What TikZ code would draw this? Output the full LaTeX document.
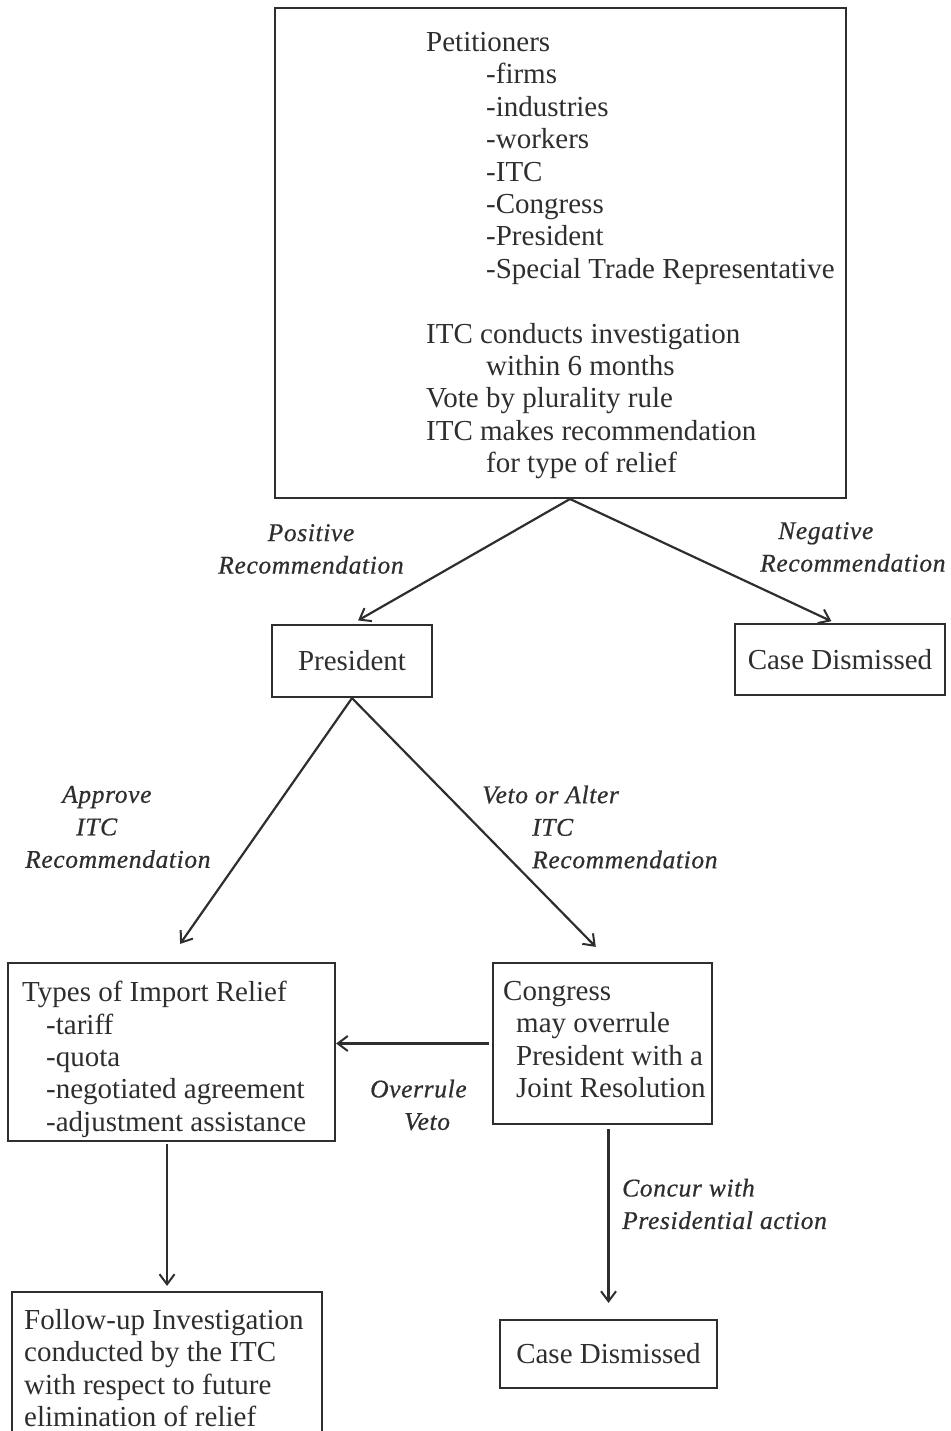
\documentclass[tikz,border=0pt]{standalone}
\usepackage{fontspec}
\setmainfont{Liberation Serif}
\newfontfamily\labfont[LetterSpace=2.5,FakeBold=0.6]{Liberation Serif}
\usetikzlibrary{arrows.meta,calc}
\definecolor{ink}{gray}{0.18}
\tikzset{
  box/.style={draw=ink, line width=2.2pt, rectangle, inner sep=0pt},
  txt/.style={text=ink, inner sep=0pt, font=\fontsize{29}{32.4}\selectfont},
  mtxt/.style={txt, align=left, anchor=north west},
  lab/.style={text=ink, inner sep=0pt, font=\labfont\itshape\fontsize{25.5}{32.5}\selectfont},
  arr/.style={draw=ink, line width=2.2pt, -{Straight Barb[length=10pt,width=15pt,line width=2pt]}}
}
\begin{document}
\begin{tikzpicture}[x=1pt,y=-1pt]
\useasboundingbox (0,0) rectangle (950,1431);
\clip (0,0) rectangle (950,1431);
% boxes
\node[box, minimum width=571pt, minimum height=490pt] (top) at (560.5,253) {};
\node[box, txt, minimum width=160pt, minimum height=72pt] (pres) at (352,661) {President};
\node[box, txt, minimum width=210pt, minimum height=71pt] (cd1) at (840,659.5) {Case Dismissed};
\node[box, minimum width=327pt, minimum height=178pt] (types) at (171.5,1052) {};
\node[box, minimum width=219pt, minimum height=161pt] (cong) at (602.5,1043.5) {};
\node[box, minimum width=310pt, minimum height=160pt] (follow) at (167,1372) {};
\node[box, txt, minimum width=217pt, minimum height=68pt] (cd2) at (608.5,1354) {Case Dismissed};
% box texts
\node[mtxt] (toptext) at (426,32) {Petitioners\\
\hspace*{60pt}-firms\\
\hspace*{60pt}-industries\\
\hspace*{60pt}-workers\\
\hspace*{60pt}-ITC\\
\hspace*{60pt}-Congress\\
\hspace*{60pt}-President\\
\hspace*{60pt}-Special Trade Representative\\[32.4pt]
ITC conducts investigation\\
\hspace*{60pt}within 6 months\\
Vote by plurality rule\\
ITC makes recommendation\\
\hspace*{60pt}for type of relief};
\node[mtxt] (typestext) at (22,981) {Types of Import Relief\\
\hspace*{24pt}-tariff\\
\hspace*{24pt}-quota\\
\hspace*{24pt}-negotiated agreement\\
\hspace*{24pt}-adjustment assistance};
\node[mtxt] (congtext) at (503,981) {Congress\\
\hspace*{13pt}may overrule\\
\hspace*{13pt}President with a\\
\hspace*{13pt}Joint Resolution};
\node[mtxt] (followtext) at (24,1309) {Follow-up Investigation\\
conducted by the ITC\\
with respect to future\\
elimination of relief};
% connectors
\coordinate (split) at (570,499);
\draw[arr, shorten >=7pt] (split) -- (pres.north);
\draw[arr, shorten >=4pt] (split) -- ([xshift=-5pt]cd1.north);
\draw[arr, shorten >=22pt] (pres.south) -- ([xshift=-4pt]types.north);
\draw[arr, shorten >=21pt] (pres.south) -- ([xshift=8pt]cong.north);
\draw[arr, shorten <=3pt] (cong.west) -- (cong.west -| types.east);
\draw[arr, shorten <=2pt, shorten >=5pt] (types.south -| follow.north) -- (follow.north);
\draw[arr, shorten <=4pt, shorten >=16pt] (cong.south -| cd2.north) -- (cd2.north);
% labels
\node[lab, align=center] (poslab) at (311,549) {Positive\\Recommendation};
\node[lab, align=left, anchor=west] (neglab) at (760,547) {\hspace*{18pt}Negative\\Recommendation};
\node[lab, align=left, anchor=west] (applab) at (25,827) {\hspace*{37pt}Approve\\\hspace*{51pt}ITC\\Recommendation};
\node[lab, align=left, anchor=west] (vetolab) at (482,827) {Veto or Alter\\\hspace*{50pt}ITC\\\hspace*{50pt}Recommendation};
\node[lab, align=left, anchor=west] (overlab) at (370,1105) {Overrule\\\hspace*{34pt}Veto};
\node[lab, align=left, anchor=west] (conclab) at (622,1204) {Concur with\\Presidential action};
\end{tikzpicture}
\end{document}
